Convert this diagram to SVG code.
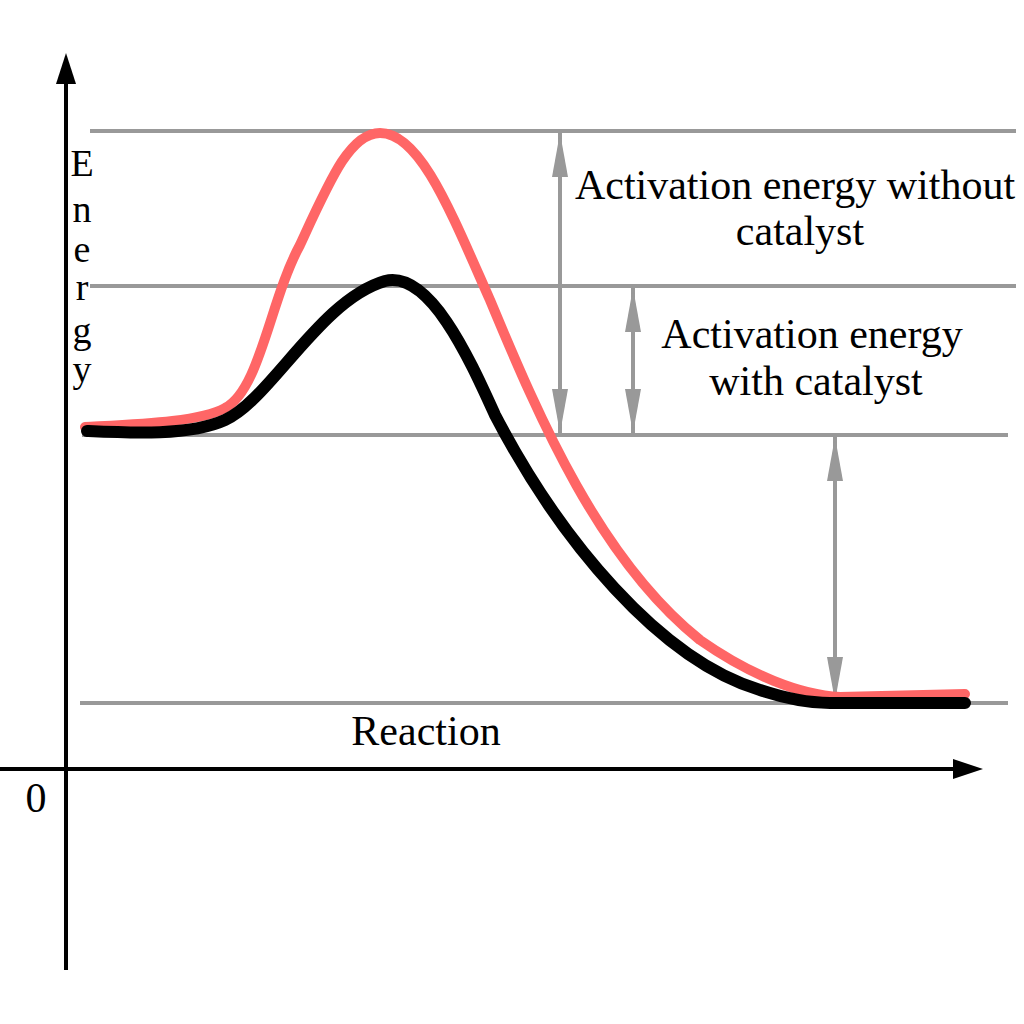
<svg xmlns="http://www.w3.org/2000/svg" width="1024" height="1024" viewBox="0 0 1024 1024">
<defs>
<style>
.grid{stroke:#999999;stroke-width:4;fill:none}
.dim{stroke:#999999;stroke-width:4;fill:none}
.axis{stroke:#000;stroke-width:4;fill:none}
.lbl{font-family:"Liberation Serif","DejaVu Serif",serif;font-size:42px;fill:#000}
.vl{font-family:"Liberation Serif","DejaVu Serif",serif;font-size:38px;fill:#000}
</style>
<marker id="ga" viewBox="0 0 44 16" refX="44" refY="8" markerWidth="44" markerHeight="16" markerUnits="userSpaceOnUse" orient="auto-start-reverse">
<path d="M44,8 L0,0 L0,16 Z" fill="#999999"/>
</marker>
</defs>
<rect width="1024" height="1024" fill="#fff"/>
<g id="gridlines">
<line class="grid" x1="90" y1="131" x2="1016" y2="131"/>
<line class="grid" x1="90" y1="286" x2="1016" y2="286"/>
<line class="grid" x1="82" y1="435" x2="1008" y2="435"/>
<line class="grid" x1="80" y1="703" x2="1008" y2="703"/>
</g>
<g id="axes">
<line class="axis" x1="66" y1="970" x2="66" y2="80"/>
<path d="M66,53 L76,84 L56,84 Z" fill="#000"/>
<line class="axis" x1="0" y1="769" x2="955" y2="769"/>
<path d="M983,769 L953,759 L953,779 Z" fill="#000"/>
</g>
<g id="connectors">
<line class="dim" x1="560" y1="133" x2="560" y2="433" marker-start="url(#ga)" marker-end="url(#ga)"/>
<line class="dim" x1="633" y1="288" x2="633" y2="433" marker-start="url(#ga)" marker-end="url(#ga)"/>
<line class="dim" x1="835" y1="437" x2="835" y2="701" marker-start="url(#ga)" marker-end="url(#ga)"/>
</g>
<g id="curves">
<path id="uncatalyzed" d="M85,427 C140,424 200,422 225,408 C260,390 270,300 300,245 C330,180 350,133 380,133 C420,133 450,210 490,300 C540,420 600,560 700,640 C750,675 800,695 840,697 L965,694" fill="none" stroke="#ff6666" stroke-width="10" stroke-linecap="round" stroke-linejoin="round"/>
<path id="catalyzed" d="M87,431 C130,433 190,436 225,420 C270,400 320,300 385,281 C430,270 470,360 495,415 C560,540 660,660 760,690 C790,700 810,703 830,703 L965,703" fill="none" stroke="#000" stroke-width="12" stroke-linecap="round" stroke-linejoin="round"/>
</g>
<g id="labels">
<text class="lbl" x="795" y="199" text-anchor="middle">Activation energy without</text>
<text class="lbl" x="800" y="245" text-anchor="middle">catalyst</text>
<text class="lbl" x="812" y="348" text-anchor="middle">Activation energy</text>
<text class="lbl" x="816" y="395" text-anchor="middle">with catalyst</text>
<text class="lbl" x="426" y="745" text-anchor="middle">Reaction</text>
<text class="lbl" x="36" y="812" text-anchor="middle">0</text>
<text class="vl" text-anchor="middle"><tspan x="82" y="176">E</tspan><tspan x="82" y="222">n</tspan><tspan x="82" y="262">e</tspan><tspan x="82" y="300">r</tspan><tspan x="82" y="343">g</tspan><tspan x="82" y="382">y</tspan></text>
</g>
</svg>
